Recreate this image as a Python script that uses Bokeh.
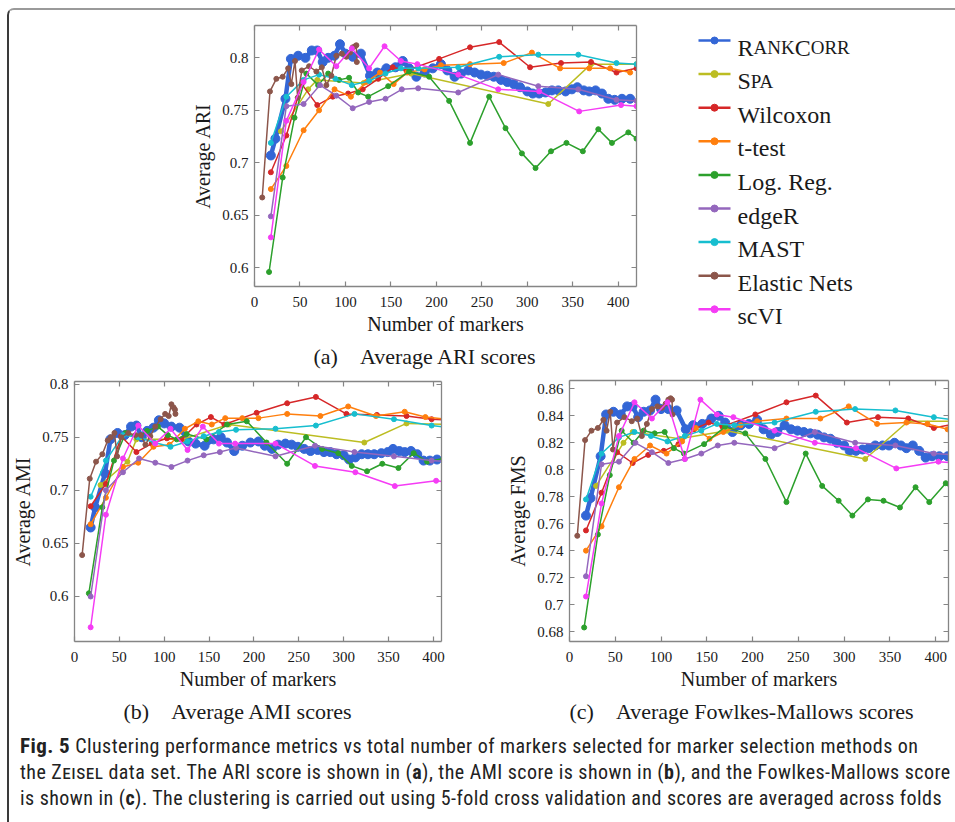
from bokeh.plotting import figure
from bokeh.models import Range1d, LinearAxis, FixedTicker, CustomJSTickFormatter, Title, Div, CustomLabelingPolicy
from bokeh.layouts import row, column
from bokeh.core.properties import value
from bokeh.embed import file_html
from bokeh.resources import INLINE

# ---------------- data ----------------
METHODS = ["RankCorr", "Spa", "Wilcoxon", "t-test", "Log. Reg.", "edgeR", "MAST", "Elastic Nets", "scVI"]
COLORS = ["#3366d6", "#bcbd22", "#d62728", "#ff7f0e", "#2ca02c", "#9467bd", "#17becf", "#8c564b", "#f53cf5"]

RANKCORR_X = [18, 23, 34, 40, 48, 56, 63, 69, 75, 81, 88, 94, 100, 108, 117, 127, 135, 145, 155, 163,
              170, 178, 187, 196, 205, 212, 220, 227, 235, 242, 249, 256, 263, 271, 278, 285, 292, 300, 306, 313,
              320, 327, 334, 342, 349, 355, 362, 368, 375, 382, 389, 396, 404, 413]
RANKCORR_ARI = [0.707, 0.723, 0.761, 0.799, 0.802, 0.800, 0.807, 0.807, 0.796, 0.800, 0.802, 0.813, 0.804, 0.801, 0.804, 0.783, 0.786, 0.790, 0.791, 0.797,
                0.790, 0.782, 0.786, 0.790, 0.794, 0.788, 0.782, 0.785, 0.788, 0.786, 0.784, 0.783, 0.782, 0.779, 0.777, 0.775, 0.772, 0.768, 0.766, 0.766,
                0.767, 0.769, 0.769, 0.768, 0.770, 0.772, 0.769, 0.768, 0.769, 0.766, 0.761, 0.760, 0.761, 0.761]
RANKCORR_AMI = [0.665, 0.684, 0.716, 0.748, 0.754, 0.752, 0.760, 0.761, 0.750, 0.756, 0.759, 0.766, 0.763, 0.760, 0.759, 0.746, 0.744, 0.742, 0.748, 0.750,
                0.745, 0.737, 0.742, 0.745, 0.746, 0.742, 0.739, 0.743, 0.744, 0.743, 0.741, 0.739, 0.737, 0.738, 0.736, 0.736, 0.734, 0.733, 0.729, 0.731,
                0.734, 0.734, 0.734, 0.735, 0.736, 0.739, 0.737, 0.736, 0.737, 0.734, 0.728, 0.728, 0.729, 0.729]
RANKCORR_FMS = [0.766, 0.779, 0.810, 0.841, 0.843, 0.841, 0.847, 0.847, 0.839, 0.843, 0.844, 0.852, 0.845, 0.845, 0.844, 0.830, 0.833, 0.834, 0.838, 0.840,
                0.835, 0.828, 0.833, 0.834, 0.837, 0.830, 0.826, 0.828, 0.833, 0.830, 0.829, 0.828, 0.827, 0.826, 0.824, 0.823, 0.820, 0.818, 0.814, 0.814,
                0.815, 0.816, 0.818, 0.818, 0.818, 0.820, 0.818, 0.816, 0.818, 0.814, 0.809, 0.810, 0.810, 0.810]

SPA_X = [29, 59, 69, 120, 172, 323, 370, 420]
SPA_ARI = [0.730, 0.770, 0.779, 0.776, 0.785, 0.756, 0.794, 0.794]
SPA_AMI = [0.705, 0.727, 0.748, 0.748, 0.762, 0.745, 0.763, 0.762]
SPA_FMS = [0.788, 0.820, 0.828, 0.823, 0.829, 0.808, 0.836, 0.836]

WILCOXON_X = [18, 35, 52, 69, 86, 103, 119, 136, 152, 167, 203, 237, 269, 303, 337, 370, 398, 420]
WILCOXON_ARI = [0.691, 0.726, 0.775, 0.755, 0.763, 0.766, 0.770, 0.780, 0.791, 0.788, 0.799, 0.810, 0.815, 0.791, 0.795, 0.796, 0.786, 0.790]
WILCOXON_AMI = [0.685, 0.706, 0.751, 0.736, 0.744, 0.749, 0.748, 0.762, 0.769, 0.762, 0.773, 0.782, 0.788, 0.772, 0.771, 0.770, 0.767, 0.766]
WILCOXON_FMS = [0.755, 0.783, 0.813, 0.805, 0.811, 0.814, 0.819, 0.830, 0.835, 0.832, 0.841, 0.850, 0.855, 0.835, 0.839, 0.838, 0.831, 0.834]

TTEST_X = [18, 35, 54, 71, 88, 106, 123, 138, 153, 168, 187, 205, 237, 274, 305, 336, 368, 391, 413]
TTEST_ARI = [0.675, 0.697, 0.731, 0.750, 0.770, 0.763, 0.777, 0.786, 0.775, 0.786, 0.789, 0.793, 0.794, 0.795, 0.805, 0.790, 0.790, 0.790, 0.786]
TTEST_AMI = [0.668, 0.693, 0.722, 0.726, 0.741, 0.743, 0.758, 0.765, 0.762, 0.768, 0.768, 0.768, 0.772, 0.770, 0.779, 0.770, 0.774, 0.769, 0.767]
TTEST_FMS = [0.740, 0.758, 0.787, 0.808, 0.818, 0.812, 0.821, 0.831, 0.823, 0.828, 0.833, 0.836, 0.838, 0.838, 0.847, 0.834, 0.835, 0.834, 0.830]

LOGREG_X = [16, 31, 44, 57, 70, 81, 93, 104, 114, 125, 147, 170, 192, 214, 237, 258, 276, 294, 309, 326, 343, 361, 378, 393, 411, 420]
LOGREG_ARI = [0.596, 0.686, 0.743, 0.785, 0.774, 0.785, 0.779, 0.781, 0.767, 0.763, 0.773, 0.787, 0.782, 0.759, 0.719, 0.763, 0.733, 0.709, 0.695, 0.711,
              0.719, 0.711, 0.732, 0.719, 0.729, 0.723]
LOGREG_AMI = [0.603, 0.684, 0.728, 0.754, 0.750, 0.756, 0.760, 0.752, 0.748, 0.753, 0.748, 0.762, 0.765, 0.745, 0.725, 0.750, 0.739, 0.735, 0.723, 0.718,
              0.725, 0.721, 0.735, 0.727, 0.730, 0.728]
LOGREG_FMS = [0.683, 0.752, 0.796, 0.829, 0.820, 0.829, 0.827, 0.828, 0.816, 0.812, 0.819, 0.832, 0.827, 0.808, 0.776, 0.812, 0.788, 0.777, 0.766, 0.778,
              0.777, 0.772, 0.787, 0.776, 0.790, 0.783]

EDGER_X = [18, 35, 54, 72, 90, 108, 126, 144, 162, 180, 224, 268, 312, 356, 398, 420]
EDGER_ARI = [0.649, 0.754, 0.756, 0.774, 0.764, 0.752, 0.758, 0.761, 0.770, 0.771, 0.767, 0.784, 0.773, 0.770, 0.760, 0.759]
EDGER_AMI = [0.600, 0.700, 0.717, 0.730, 0.726, 0.722, 0.728, 0.733, 0.736, 0.740, 0.732, 0.742, 0.736, 0.732, 0.728, 0.727]
EDGER_FMS = [0.721, 0.804, 0.806, 0.820, 0.813, 0.805, 0.808, 0.812, 0.818, 0.820, 0.816, 0.828, 0.820, 0.818, 0.812, 0.811]

MAST_X = [18, 35, 54, 71, 89, 107, 126, 144, 161, 180, 224, 269, 312, 356, 398, 420]
MAST_ARI = [0.719, 0.763, 0.779, 0.784, 0.780, 0.774, 0.778, 0.785, 0.790, 0.790, 0.791, 0.801, 0.803, 0.803, 0.795, 0.794]
MAST_AMI = [0.694, 0.728, 0.752, 0.750, 0.745, 0.741, 0.746, 0.751, 0.755, 0.757, 0.758, 0.761, 0.772, 0.767, 0.761, 0.759]
MAST_FMS = [0.778, 0.812, 0.824, 0.828, 0.825, 0.821, 0.825, 0.829, 0.834, 0.833, 0.835, 0.843, 0.845, 0.844, 0.839, 0.837]

ENET_X = [8.5, 17, 24, 31, 37, 40.5, 44.5, 47.5, 52, 60, 68, 74, 79, 84.5, 90, 96, 101, 105, 108, 110.5, 112, 112.5]
ENET_ARI = [0.667, 0.768, 0.780, 0.782, 0.790, 0.775, 0.797, 0.762, 0.788, 0.792, 0.787, 0.791, 0.774, 0.783, 0.802, 0.804, 0.801, 0.805, 0.810, 0.811, 0.812, 0.796]
ENET_AMI = [0.639, 0.711, 0.727, 0.734, 0.747, 0.750, 0.754, 0.732, 0.750, 0.754, 0.752, 0.752, 0.743, 0.751, 0.760, 0.767, 0.772, 0.770, 0.781, 0.778, 0.776, 0.772]
ENET_FMS = [0.751, 0.822, 0.829, 0.831, 0.837, 0.829, 0.843, 0.815, 0.835, 0.839, 0.836, 0.838, 0.825, 0.834, 0.845, 0.847, 0.846, 0.849, 0.852, 0.853, 0.852, 0.841]

SCVI_X = [18, 35, 54, 71, 90, 107, 126, 143, 161, 179, 224, 268, 313, 357, 403, 420]
SCVI_ARI = [0.629, 0.740, 0.777, 0.808, 0.792, 0.809, 0.790, 0.811, 0.797, 0.794, 0.784, 0.770, 0.768, 0.749, 0.755, 0.754]
SCVI_AMI = [0.571, 0.677, 0.730, 0.761, 0.744, 0.758, 0.738, 0.760, 0.744, 0.744, 0.744, 0.723, 0.717, 0.704, 0.709, 0.707]
SCVI_FMS = [0.706, 0.775, 0.825, 0.850, 0.838, 0.850, 0.808, 0.852, 0.841, 0.839, 0.829, 0.820, 0.816, 0.801, 0.806, 0.805]

X_TICKS = [0, 50, 100, 150, 200, 250, 300, 350, 400]
ARI_TICKS = [0.6, 0.65, 0.7, 0.75, 0.8]
AMI_TICKS = [0.6, 0.65, 0.7, 0.75, 0.8]
FMS_TICKS = [0.68, 0.7, 0.72, 0.74, 0.76, 0.78, 0.8, 0.82, 0.84, 0.86]

SERIES_X = [RANKCORR_X, SPA_X, WILCOXON_X, TTEST_X, LOGREG_X, EDGER_X, MAST_X, ENET_X, SCVI_X]
SERIES_ARI = [RANKCORR_ARI, SPA_ARI, WILCOXON_ARI, TTEST_ARI, LOGREG_ARI, EDGER_ARI, MAST_ARI, ENET_ARI, SCVI_ARI]
SERIES_AMI = [RANKCORR_AMI, SPA_AMI, WILCOXON_AMI, TTEST_AMI, LOGREG_AMI, EDGER_AMI, MAST_AMI, ENET_AMI, SCVI_AMI]
SERIES_FMS = [RANKCORR_FMS, SPA_FMS, WILCOXON_FMS, TTEST_FMS, LOGREG_FMS, EDGER_FMS, MAST_FMS, ENET_FMS, SCVI_FMS]

# ---------------- styling ----------------
SERIF = "Liberation Serif"
AXC = "#858585"
TXT = "#1a1a1a"
FMT = "return String(Math.round(tick*1000)/1000);"
NO_LABELS = "const idx = [...indices]; for (const i of idx) { indices.unset(i) } return indices;"


def style_axis(ax, labels=True):
    ax.axis_line_color = AXC
    ax.axis_line_width = 1.3
    ax.major_tick_line_color = AXC
    ax.major_tick_line_width = 1.2
    ax.major_tick_in = 5
    ax.major_tick_out = 0
    ax.minor_tick_line_color = None
    ax.major_label_text_font = SERIF
    ax.major_label_text_color = TXT
    ax.axis_label_text_font = SERIF
    ax.axis_label_text_font_style = "normal"
    ax.axis_label_text_color = TXT
    ax.axis_label_text_font_size = "20px"
    if labels:
        ax.major_label_text_font_size = "15px"
        ax.major_label_standoff = 10
        ax.axis_label_standoff = 3
    else:
        ax.major_label_text_font_size = "1px"
        ax.major_label_standoff = 0
        ax.major_label_policy = CustomLabelingPolicy(code=NO_LABELS)


def panel(w, h, borders, xr, yr, yticks, ylabel, subcap, cap_offset, ys):
    p = figure(width=w, height=h, x_range=Range1d(*xr), y_range=Range1d(*yr),
               output_backend="svg", toolbar_location=None,
               min_border_left=borders[0], min_border_right=borders[1],
               min_border_top=borders[2], min_border_bottom=borders[3],
               x_axis_label="Number of markers", y_axis_label=ylabel)
    p.frame_align = False
    p.xgrid.visible = False
    p.ygrid.visible = False
    p.outline_line_color = None
    p.border_fill_color = "white"
    p.background_fill_color = "white"
    p.xaxis.ticker = FixedTicker(ticks=X_TICKS)
    p.yaxis.ticker = FixedTicker(ticks=yticks)
    p.xaxis.formatter = CustomJSTickFormatter(code=FMT)
    p.yaxis.formatter = CustomJSTickFormatter(code=FMT)
    style_axis(p.xaxis[0])
    style_axis(p.yaxis[0])
    p.yaxis[0].major_label_standoff = 6
    p.yaxis[0].axis_label_standoff = 5
    top = LinearAxis(ticker=FixedTicker(ticks=X_TICKS))
    right = LinearAxis(ticker=FixedTicker(ticks=yticks))
    style_axis(top, labels=False)
    style_axis(right, labels=False)
    p.add_layout(top, "above")
    p.add_layout(right, "right")
    p.add_layout(Title(text=subcap, align="left", offset=cap_offset, text_font=SERIF,
                       text_font_size="22px", text_font_style="normal", text_color=TXT,
                       standoff=8), "below")
    for i, (xs, yv) in enumerate(zip(SERIES_X, ys)):
        if i == 0:
            p.line(xs, yv, line_color=COLORS[i], line_width=4.5, line_join="round")
            p.scatter(xs, yv, marker="circle", size=9, fill_color=COLORS[i], line_color=COLORS[i])
        else:
            p.line(xs, yv, line_color=COLORS[i], line_width=1.5)
            p.scatter(xs, yv, marker="circle", size=5, fill_color=COLORS[i], line_color=COLORS[i])
    return p


NB = "\u00a0" * 4
pa = panel(651, 362, (245, 24, 15, 86), (0, 420), (0.5822, 0.8308), ARI_TICKS, "Average ARI",
           "(a)" + NB + "Average ARI scores", 59, SERIES_ARI)
pb = panel(476, 356, (62, 44, 9, 87), (0, 409), (0.5576, 0.8025), AMI_TICKS, "Average AMI",
           "(b)" + NB + "Average AMI scores", 49, SERIES_AMI)
pc = panel(470, 356, (84, 7, 8, 87), (0, 414), (0.6726, 0.8662), FMS_TICKS, "Average FMS",
           "(c)" + NB + "Average Fowlkes-Mallows scores", 0, SERIES_FMS)

# ---------------- legend (own small figure) ----------------
leg = figure(width=295, height=362, x_range=Range1d(0, 295), y_range=Range1d(362, 0),
             output_backend="svg", toolbar_location=None, min_border=0)
leg.frame_align = False
leg.axis.visible = False
leg.grid.visible = False
leg.outline_line_color = None
LEG_Y0, LEG_DY = 30, 33.6
LX0, LX1, TX = 38, 70, 77
BIG, SMALL = 24, 19
for i, name in enumerate(METHODS):
    yc = LEG_Y0 + i * LEG_DY
    leg.line([LX0, LX1], [yc, yc], line_color=COLORS[i], line_width=2.5)
    leg.scatter([(LX0 + LX1) / 2], [yc], marker="circle", size=7, fill_color=COLORS[i], line_color=COLORS[i])
    yb = yc + 7
    if name == "RankCorr":
        pieces = [("R", BIG, 0), ("ANK", SMALL, 16.0), ("C", BIG, 57.2), ("ORR", SMALL, 73.2)]
    elif name == "Spa":
        pieces = [("S", BIG, 0), ("PA", SMALL, 13.3)]
    else:
        pieces = [(name, BIG, 0)]
    for t, fs, dx in pieces:
        leg.text(x=[TX + dx], y=[yb], text=[t], text_font=value(SERIF), text_font_size=f"{fs}px",
                 text_baseline="alphabetic", text_align="left", text_color=TXT)

CAPTION = (
    "<b style='font-size:21px'>Fig. 5</b> Clustering performance metrics vs total number of markers selected for marker selection methods on<br>"
    "the <span style='font-variant:small-caps'>Zeisel</span> data set. The ARI score is shown in (<b>a</b>), the AMI score is shown in (<b>b</b>), and the Fowlkes-Mallows score<br>"
    "is shown in (<b>c</b>). The clustering is carried out using 5-fold cross validation and scores are averaged across folds"
)
cap = Div(text=CAPTION, width=946, height=94,
          styles={"font-family": "'Roboto Condensed', 'Liberation Sans Narrow', 'Roboto', sans-serif",
                  "font-stretch": "condensed",
                  "font-size": "20px", "letter-spacing": "0.45px", "line-height": "26px",
                  "color": "#222", "white-space": "nowrap", "padding-left": "6px", "padding-top": "0px"})

root = column(row(pa, leg), row(pb, pc), cap,
              styles={"margin-left": "7px", "margin-top": "8px", "border-left": "2px solid #3a3a3a",
                      "border-top": "2px solid #9a9a9a", "border-top-left-radius": "7px"})

open("out.html", "w").write(file_html(root, INLINE))
